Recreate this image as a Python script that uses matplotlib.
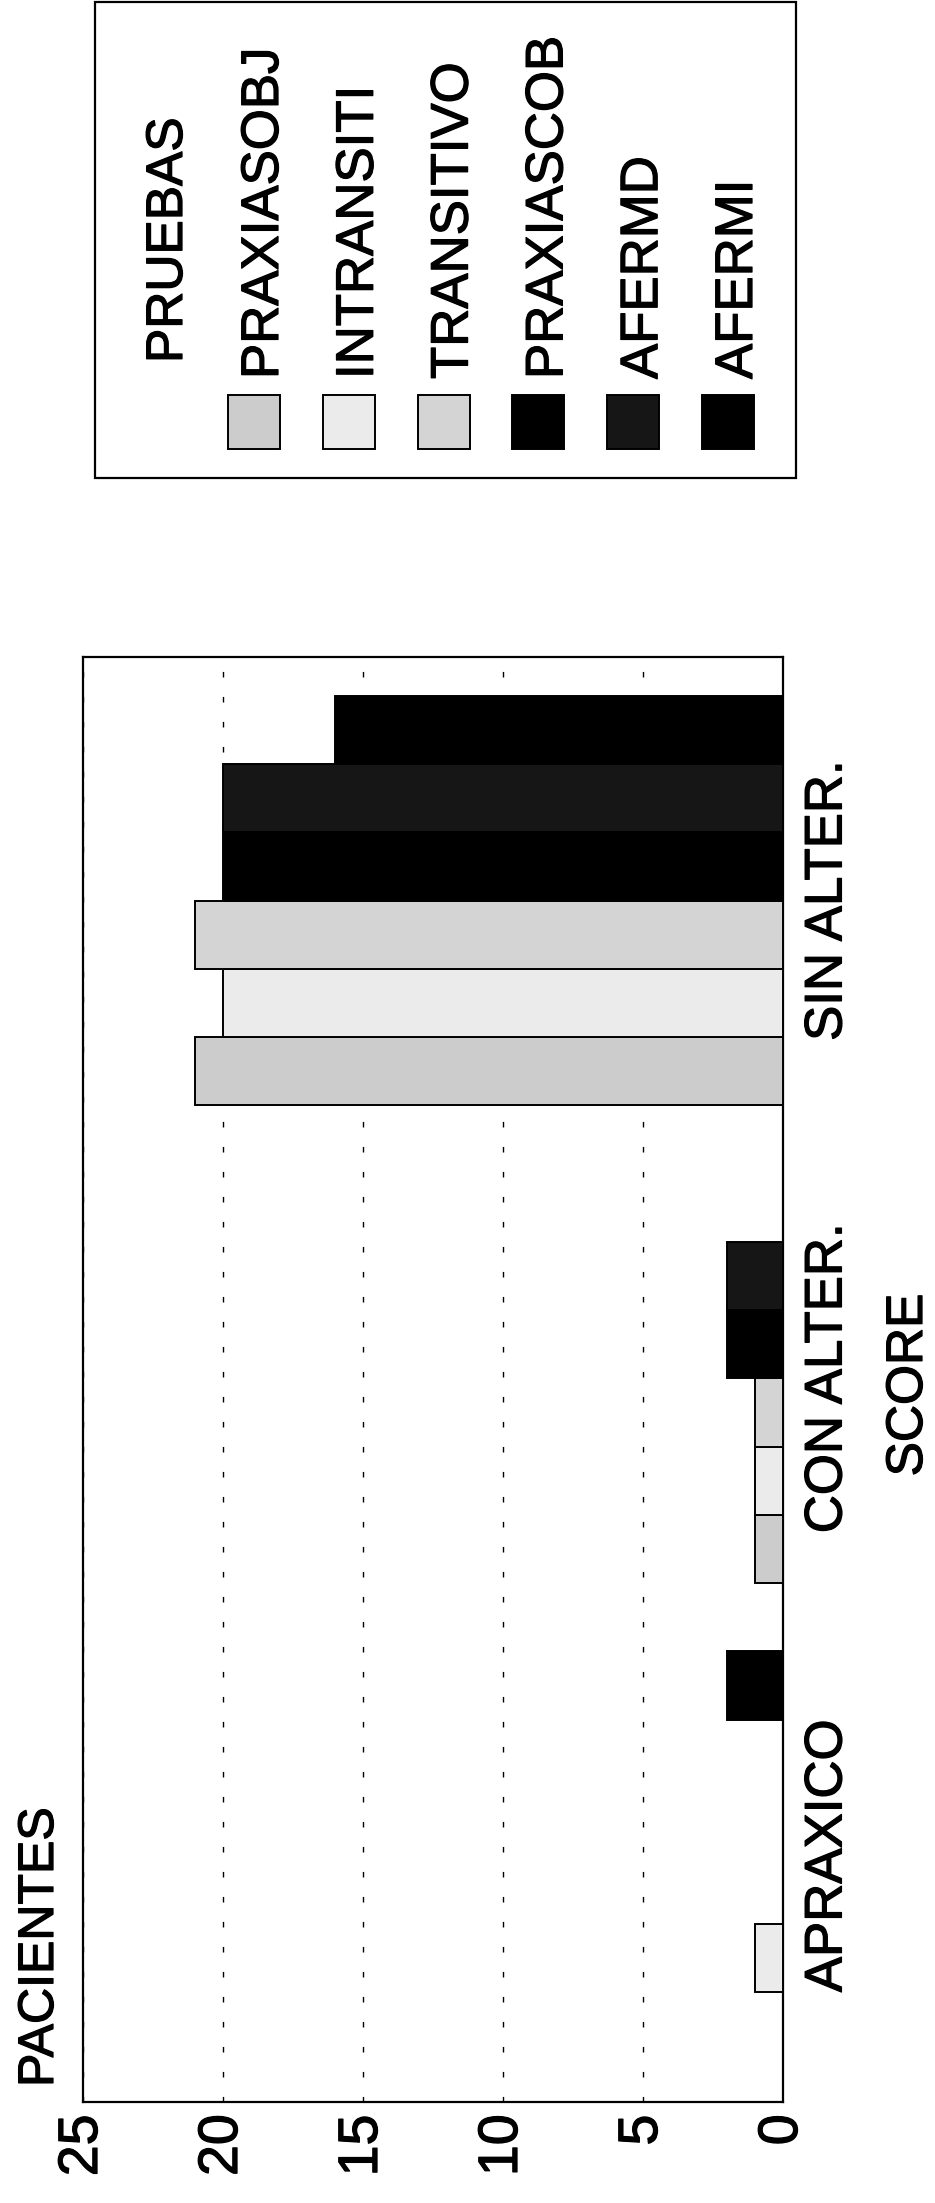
import matplotlib
matplotlib.use("Agg")
import matplotlib.pyplot as plt
import matplotlib.patheffects as pe
from matplotlib.patches import Rectangle
import numpy as np

# Data
categories = ["APRAXICO", "CON ALTER.", "SIN ALTER."]
series_names = ["PRAXIASOBJ", "INTRANSITI", "TRANSITIVO", "PRAXIASCOB", "AFERMD", "AFERMI"]
praxiasobj = [0, 1, 21]
intransiti = [1, 1, 20]
transitivo = [0, 1, 21]
praxiascob = [0, 2, 20]
afermd = [0, 2, 20]
afermi = [2, 0, 16]
x_ticks = [0, 5, 10, 15, 20, 25]

series_values = [praxiasobj, intransiti, transitivo, praxiascob, afermd, afermi]
series_colors = ["#cccccc", "#ebebeb", "#d4d4d4", "#000000", "#161616", "#000000"]

# Layout (pixels of the 935x2203 canvas)
W, H = 935, 2203
FONT = "Liberation Sans"
THICK = [pe.withStroke(linewidth=0.9, foreground="black")]

def fx(px):
    return px / W

def fy(py):
    return 1 - py / H

plt.rcParams["font.family"] = [FONT, "DejaVu Sans"]

fig = plt.figure(figsize=(W / 100, H / 100), dpi=100)
fig.patch.set_facecolor("white")

ax_left, ax_right, ax_top, ax_bottom = 83, 783, 657, 2102
ax = fig.add_axes([fx(ax_left), fy(ax_bottom),
                   (ax_right - ax_left) / W, (ax_bottom - ax_top) / H])

bar_h = 1 / 7
ypos = np.arange(len(categories))
for i, (name, vals, col) in enumerate(zip(series_names, series_values, series_colors)):
    ax.barh(ypos + (i - 2.5) * bar_h, vals, height=bar_h, color=col,
            edgecolor="black", linewidth=1.4, label=name, zorder=3)

ax.set_xlim(25, 0)
ax.set_ylim(-0.515, 2.51)

ax.set_xticks(x_ticks)
ax.set_xticklabels([str(t) for t in x_ticks], rotation=90, fontsize=40)
ax.tick_params(axis="x", length=0, pad=9)

ax.yaxis.tick_right()
ax.set_yticks(ypos)
ax.set_yticklabels(categories, rotation=90, fontsize=38, va="center")
ax.tick_params(axis="y", length=0, pad=14)

for lab in ax.get_xticklabels() + ax.get_yticklabels():
    lab.set_path_effects(THICK)

ax.set_axisbelow(True)
ax.xaxis.grid(True, linestyle=(0, (4, 14)), color="black", linewidth=1.0)
ax.yaxis.grid(False)
for sp in ax.spines.values():
    sp.set_linewidth(1.6)
    sp.set_color("black")

# axis titles (chart is printed rotated)
fig.text(fx(53), fy(2087), "PACIENTES", rotation=90, rotation_mode="anchor",
         ha="left", va="baseline", fontsize=36, path_effects=THICK)
fig.text(fx(922), fy(1385), "SCORE", rotation=90, rotation_mode="anchor",
         ha="center", va="baseline", fontsize=37, path_effects=THICK)

# legend box
fig.patches.append(Rectangle((fx(95), fy(478)), (796 - 95) / W, (478 - 2) / H,
                             transform=fig.transFigure, facecolor="white",
                             edgecolor="black", linewidth=1.6))
fig.text(fx(182), fy(363), "PRUEBAS", rotation=90, rotation_mode="anchor",
         ha="left", va="baseline", fontsize=37, path_effects=THICK)
step = 94.8
for i, (name, col) in enumerate(zip(series_names, series_colors)):
    x0 = 228 + step * i
    fig.patches.append(Rectangle((fx(x0), fy(449)), 52 / W, 54 / H,
                                 transform=fig.transFigure, facecolor=col,
                                 edgecolor="black", linewidth=1.4))
    fig.text(fx(278 + step * i), fy(379), name, rotation=90, rotation_mode="anchor",
             ha="left", va="baseline", fontsize=38, path_effects=THICK)

fig.savefig("out.png", dpi=100, facecolor="white")
